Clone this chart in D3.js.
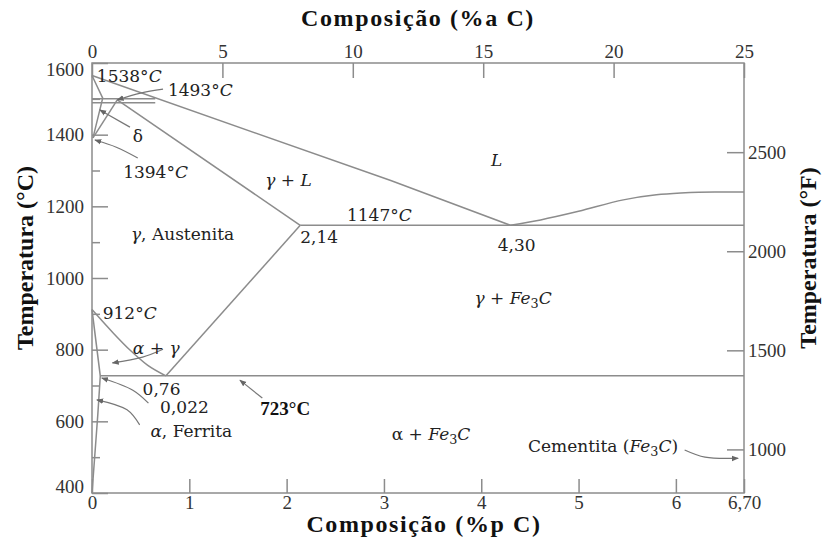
<!DOCTYPE html>
<html>
<head>
<meta charset="utf-8">
<script src="https://cdn.jsdelivr.net/npm/d3@7"></script>
<style>
  body { margin: 0; background: #fff; }
  .tick text { font-family: "Liberation Serif", serif; font-size: 19px; fill: #333; }
  .tick line { stroke: #8c8c8c; stroke-width: 1.5; }
  .title { font-family: "Liberation Serif", serif; font-weight: bold; font-size: 23px; fill: #111; }
  .note { font-family: "DejaVu Serif", serif; font-size: 17px; fill: #222; }
  .note.bold { font-family: "Liberation Serif", serif; font-weight: bold; font-size: 19px; fill: #111; }
</style>
</head>
<body>
<div id="chart"></div>
<script>
// axis ticks
const wtTicks = [0, 1, 2, 3, 4, 5, 6, 6.7];
const atTicks = [0, 5, 10, 15, 20, 25];
const tempTicks = [400, 600, 800, 1000, 1200, 1400, 1600];
const tempMinor = [500, 700, 900, 1100, 1300, 1500];
const fTicks = [1000, 1500, 2000, 2500];

// phase boundaries, [wt% C, °C]
const liquidusLeft = [[0, 1565], [3.07, 1272], [4.30, 1147]];
const liquidusRight = [[4.30, 1147], [4.61, 1162], [5.0, 1186], [5.46, 1218], [5.8, 1232], [6.05, 1237], [6.4, 1240], [6.70, 1240]];
const deltaBound = [[0, 1565], [0.11, 1502], [0.01, 1391]];
const gammaDelta = [[0.26, 1497], [0.01, 1391]];
const peritectic1 = [[0, 1500], [0.65, 1500]];
const peritectic2 = [[0, 1489], [0.65, 1489]];
const solidus = [[0.26, 1497], [2.14, 1147]];
const eutectic = [[2.14, 1147], [6.70, 1147]];
const acm = [[0.76, 727], [2.14, 1147]];
const a3 = [[0, 912], [0.22, 846], [0.39, 799], [0.57, 757], [0.76, 727]];
const alphaBound = [[0, 912], [0.085, 727]];
const eutectoid = [[0.085, 727], [6.70, 727]];
const solvus = [[0.085, 727], [0.06, 620], [0.03, 510], [0, 400]];

const straight = [liquidusLeft, deltaBound, gammaDelta, peritectic1, peritectic2, solidus, eutectic, acm, alphaBound, eutectoid];

// labels: [wt%, °C, text]  *..* = italic, _n = subscript
const notes = [
  [0.05, 1547, "1538°*C*"],
  [0.78, 1508, "1493°*C*"],
  [0.42, 1380, "δ"],
  [0.32, 1279, "1394°*C*"],
  [4.10, 1312, "*L*"],
  [1.78, 1257, "*γ* + *L*"],
  [2.62, 1159, "1147°*C*"],
  [2.14, 1098, "2,14"],
  [4.17, 1075, "4,30"],
  [0.40, 1106, "*γ*, Austenita"],
  [3.93, 927, "*γ* + *Fe*_3*C*"],
  [0.11, 886, "912°*C*"],
  [0.42, 788, "*α* + *γ*"],
  [0.52, 673, "0,76"],
  [0.70, 623, "0,022"],
  [1.73, 618, "723°C", "bold"],
  [0.60, 556, "*α*, Ferrita"],
  [3.08, 548, "α + *Fe*_3*C*"],
  [4.48, 514, "Cementita (*Fe*_3*C*)"]
];

// pointer arrows, tip is the last point
const arrows = [
  [[0.73, 1527], [0.5, 1516], [0.26, 1497]],
  [[0.39, 1421], [0.08, 1469]],
  [[0.47, 1335], [0.25, 1365], [0.03, 1385]],
  [[0.73, 801], [0.52, 779], [0.21, 763]],
  [[0.58, 651], [0.42, 687], [0.10, 721]],
  [[1.75, 665], [1.52, 715]],
  [[0.49, 590], [0.36, 632], [0.05, 660]],
  [[6.09, 520], [6.30, 500], [6.64, 497]]
];

const W = 822, H = 538;
const margin = { top: 63, right: 78, bottom: 45, left: 92 };
const width = W - margin.left - margin.right;
const height = H - margin.top - margin.bottom;
const lineColor = "#8c8c8c";

const svg = d3.select("#chart").append("svg")
  .attr("width", W)
  .attr("height", H);

svg.append("defs").append("marker")
  .attr("id", "tip")
  .attr("viewBox", "0 0 10 10")
  .attr("refX", 9).attr("refY", 5)
  .attr("markerWidth", 7).attr("markerHeight", 7)
  .attr("markerUnits", "userSpaceOnUse")
  .attr("orient", "auto")
  .append("path")
  .attr("d", "M0,1 L10,5 L0,9 Z")
  .attr("fill", "#666");

const g = svg.append("g").attr("transform", `translate(${margin.left},${margin.top})`);

const x = d3.scaleLinear().domain([0, 6.7]).range([0, width]);
const xTop = d3.scaleLinear().domain([0, 25]).range([0, width]);
const y = d3.scaleLinear().domain([400, 1600]).range([height, 0]);
const yF = d3.scaleLinear().domain([780, 2950]).range([height, 0]);
const plain = d3.format("d");

// axes, ticks pointing inward
g.append("g")
  .attr("transform", `translate(0,${height})`)
  .call(d3.axisBottom(x).tickValues(wtTicks).tickSize(-14).tickPadding(2)
    .tickFormat(d => d === 6.7 ? "6,70" : plain(d)));

g.append("g")
  .call(d3.axisTop(xTop).tickValues(atTicks).tickSize(-15).tickPadding(5).tickFormat(plain));

const leftAxis = g.append("g")
  .call(d3.axisLeft(y).tickValues(tempTicks).tickSize(-16).tickPadding(8).tickFormat(plain));
leftAxis.selectAll(".tick text")
  .attr("dy", d => d === 1600 ? "0.64em" : d === 400 ? "-0.05em" : "0.32em");

g.append("g")
  .call(d3.axisLeft(y).tickValues(tempMinor).tickSize(-8).tickFormat(""));

g.append("g")
  .attr("transform", `translate(${width},0)`)
  .call(d3.axisRight(yF).tickValues(fTicks).tickSize(-17).tickPadding(4).tickFormat(plain));

g.selectAll(".domain").remove();

g.append("rect")
  .attr("width", width)
  .attr("height", height)
  .attr("fill", "none")
  .attr("stroke", lineColor)
  .attr("stroke-width", 1.5);

// phase lines
const line = d3.line().x(d => x(d[0])).y(d => y(d[1]));
const smoothY = d3.line().curve(d3.curveMonotoneY).x(d => x(d[0])).y(d => y(d[1]));
const smoothX = d3.line().curve(d3.curveMonotoneX).x(d => x(d[0])).y(d => y(d[1]));

g.append("g").selectAll("path")
  .data(straight)
  .join("path")
  .attr("d", line)
  .attr("fill", "none")
  .attr("stroke", lineColor)
  .attr("stroke-width", 1.5);

g.append("path").datum(liquidusRight)
  .attr("d", smoothX).attr("fill", "none").attr("stroke", lineColor).attr("stroke-width", 1.5);
g.append("path").datum(a3)
  .attr("d", smoothX).attr("fill", "none").attr("stroke", lineColor).attr("stroke-width", 1.5);
g.append("path").datum(solvus)
  .attr("d", smoothY).attr("fill", "none").attr("stroke", lineColor).attr("stroke-width", 1.5);

// pointer arrows
const arrowLine = d3.line().curve(d3.curveCatmullRom).x(d => x(d[0])).y(d => y(d[1]));
g.append("g").selectAll("path")
  .data(arrows)
  .join("path")
  .attr("d", arrowLine)
  .attr("fill", "none")
  .attr("stroke", "#777")
  .attr("stroke-width", 1.2)
  .attr("marker-end", "url(#tip)");

// labels with italic and subscript pieces
function addRich(sel, str) {
  let shift = 0;
  str.split(/(\*[^*]+\*|_\d)/).filter(s => s).forEach(s => {
    let t;
    if (s[0] === "_") {
      t = sel.append("tspan").attr("font-size", "0.75em").attr("dy", "4").text(s.slice(1));
      shift = -4;
      return;
    }
    t = sel.append("tspan").text(s[0] === "*" ? s.slice(1, -1) : s);
    if (s[0] === "*") t.attr("font-style", "italic");
    if (shift) { t.attr("dy", shift); shift = 0; }
  });
}

g.append("g").selectAll("text")
  .data(notes)
  .join("text")
  .attr("class", d => d[3] ? "note " + d[3] : "note")
  .attr("x", d => x(d[0]))
  .attr("y", d => y(d[1]))
  .each(function(d) { addRich(d3.select(this), d[2]); });

// axis titles
svg.append("text").attr("class", "title")
  .attr("x", 418).attr("y", 26)
  .attr("text-anchor", "middle")
  .style("font-size", "24px")
  .style("letter-spacing", "1.6px")
  .text("Composição (%a C)");

svg.append("text").attr("class", "title")
  .attr("x", 424).attr("y", 532)
  .attr("text-anchor", "middle")
  .style("font-size", "24px")
  .style("letter-spacing", "1.6px")
  .text("Composição (%p C)");

svg.append("text").attr("class", "title")
  .attr("transform", "translate(33,258) rotate(-90)")
  .attr("text-anchor", "middle")
  .style("font-size", "24px")
  .text("Temperatura (°C)");

svg.append("text").attr("class", "title")
  .attr("transform", "translate(816,258) rotate(-90)")
  .attr("text-anchor", "middle")
  .style("font-size", "24px")
  .text("Temperatura (°F)");
</script>
</body>
</html>
